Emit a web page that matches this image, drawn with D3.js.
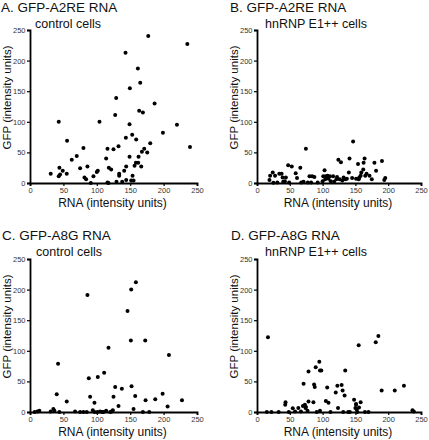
<!DOCTYPE html>
<html><head><meta charset="utf-8">
<script src="https://cdn.jsdelivr.net/npm/d3@7"></script>
<style>
html,body{margin:0;padding:0;background:#fff;}
svg{display:block;font-family:"Liberation Sans",Arial,Helvetica,sans-serif;}
</style></head>
<body><svg id="c" width="429" height="440"></svg>
<script>
const titles = ["A. GFP-A2RE RNA","B. GFP-A2RE RNA","C. GFP-A8G RNA","D. GFP-A8G RNA"];
const subtitles = ["control cells","hnRNP E1++ cells","control cells","hnRNP E1++ cells"];
const xLabel = "RNA (intensity units)";
const yLabel = "GFP (intensity units)";
const tickValues = [0,50,100,150,200,250];

// [RNA, GFP]
const dataA = [[43,100],[31,15],[43,11],[45,14],[44,25],[49,20],[55,15],[55.5,69],[62.5,38],[70,44],[75,24],[80,57],[81.5,9],[84,6],[86,27],[95,11],[100,18],[101.5,20],[91,0],[104,100],[114,40],[116,56],[116,1],[117.5,0],[118,25],[121.5,22],[125,55],[127.5,111],[129,139],[129.5,2],[132.5,60],[133.5,15],[133.5,12],[138,2],[141,20],[143,213],[143.5,74],[144,27],[144,5],[149,43],[149,96],[149.5,155],[151.5,4],[153,79],[153.5,12],[155,4],[156.5,28],[158.5,33],[159,71],[161.5,187],[162,33],[162.5,43],[163.5,118],[165,164],[166.5,27],[167.5,51],[169,115],[171,56],[175.5,50],[177,240],[180,65],[186.5,130],[199,82],[220,95],[235.5,227],[239.5,59]];
const dataB = [[19,5],[20,12],[24,17],[27.5,12],[25,0.5],[31,1],[34,15],[37.5,15],[39,9],[40,2],[42.5,3],[44,9],[47.5,29],[49,1],[53,27],[59,16],[61,8],[66,25],[67.5,1],[71,2],[74.5,56],[77.5,1],[80,11],[82.5,1],[84,11],[87.5,10],[92.5,1],[100,3],[101,11],[103,21],[104,6],[105,11],[107.5,12],[109,7],[111,11],[112.5,3],[116,11],[117.5,2],[121,6],[122,10],[124,38],[126,6],[128,34],[130,4],[132,9],[134.5,6],[137,7],[140,17],[141,40],[145,8],[146.5,68],[151,7],[154,31],[155,6],[156,9],[158,12],[159,17],[162,22],[162.5,33],[164,40],[165,12],[167,15],[171.5,12],[175,6],[179,33],[181.5,20],[190.5,36],[194,5],[195.5,8]];
const dataC = [[7,0],[11,1],[14,2],[31,1],[35,5],[36.5,2],[40,29],[42,79],[44,0],[55,17],[67.5,1],[75,0],[80,0],[86,191],[85,0],[88,55],[90,25],[94,3],[96.5,15],[96.5,0],[101.5,57],[101,0],[105,1],[108,0],[111,64],[110,0],[114,2],[117.5,105],[120,0],[122,1],[125,25],[127.5,41],[124,3],[132.5,10],[137.5,38],[146,165],[151.5,200],[151,117],[152,42],[155,5],[157.5,26],[158.5,212],[169,0],[172.5,117],[173,19],[178.5,0],[187.5,21],[198.5,30],[206,9],[208,93],[227.5,19]];
const dataD = [[16.7,122],[15,0],[22,0],[33,0],[43,12],[43.5,16],[48.5,0],[54.5,6],[58,1],[63,6.5],[67,1],[71,46],[70,10],[73,12],[74,6.5],[74.5,8],[77,2],[78.5,66],[78.5,17],[86,16],[87,45],[88,41],[89.5,73],[91,0],[95,82],[96,68],[96,2],[98,68],[105,18],[107,40],[109,15],[112,0],[120,32],[122.5,43],[123.5,6.5],[129,44],[130.5,35],[131.5,0],[133.5,27],[134.5,68],[139,0],[141.5,0],[148,20],[151,12],[150,6.5],[152,4],[153,0],[151,13],[155.5,7.5],[158,16],[155,109],[164.5,0],[170,0],[181,114],[185,124],[190,35],[210,35],[224,43],[237,3],[239,1]];
const datasets = [dataA, dataB, dataC, dataD];

const svg = d3.select("#c");
const panels = [
  {x0:30, x1:197, y0:183, y1:30, tx:1, sx:35},
  {x0:257, x1:421, y0:183, y1:30, tx:230, sx:265},
  {x0:30, x1:197, y0:412, y1:259, tx:2, sx:36},
  {x0:257, x1:421, y0:412, y1:259, tx:231, sx:265}
];

panels.forEach((p, i) => {
  const x = d3.scaleLinear().domain([0,250]).range([p.x0, p.x1]);
  const y = d3.scaleLinear().domain([0,250]).range([p.y0, p.y1]);
  const g = svg.append("g");

  const xa = g.append("g").attr("transform", `translate(0,${p.y0})`)
    .call(d3.axisBottom(x).tickValues(tickValues).tickSize(3).tickPadding(1.5));
  const ya = g.append("g").attr("transform", `translate(${p.x0},0)`)
    .call(d3.axisLeft(y).tickValues(tickValues).tickSize(3).tickPadding(1.5));
  [xa, ya].forEach(a => {
    a.select(".domain").attr("stroke","#000").attr("stroke-width",1.8);
    a.selectAll(".tick line").attr("stroke","#000").attr("stroke-width",1.2);
    a.selectAll(".tick text").attr("fill","#333").style("font-size","7.5px");
  });

  g.append("g").selectAll("circle").data(datasets[i]).join("circle")
    .attr("cx", d => x(d[0])).attr("cy", d => y(d[1])).attr("r", 2).attr("fill","#000");

  const tb = i < 2 ? 12 : 240;
  g.append("text").attr("x", p.tx).attr("y", tb).text(titles[i])
    .style("font-size","13.5px").attr("fill","#111");
  g.append("text").attr("x", p.sx).attr("y", tb + 15.5).text(subtitles[i])
    .style("font-size","12.5px").attr("fill","#111");

  g.append("text").attr("x", (p.x0 + p.x1)/2 - 1).attr("y", p.y0 + 23.5)
    .attr("text-anchor","middle").text(xLabel).style("font-size","12px").attr("fill","#111");
  g.append("text").attr("transform", `translate(${p.x0 - 19.5},${(p.y0 + p.y1)/2 - 9}) rotate(-90)`)
    .attr("text-anchor","middle").text(yLabel).style("font-size","11.5px").attr("fill","#111");
});
</script></body></html>
